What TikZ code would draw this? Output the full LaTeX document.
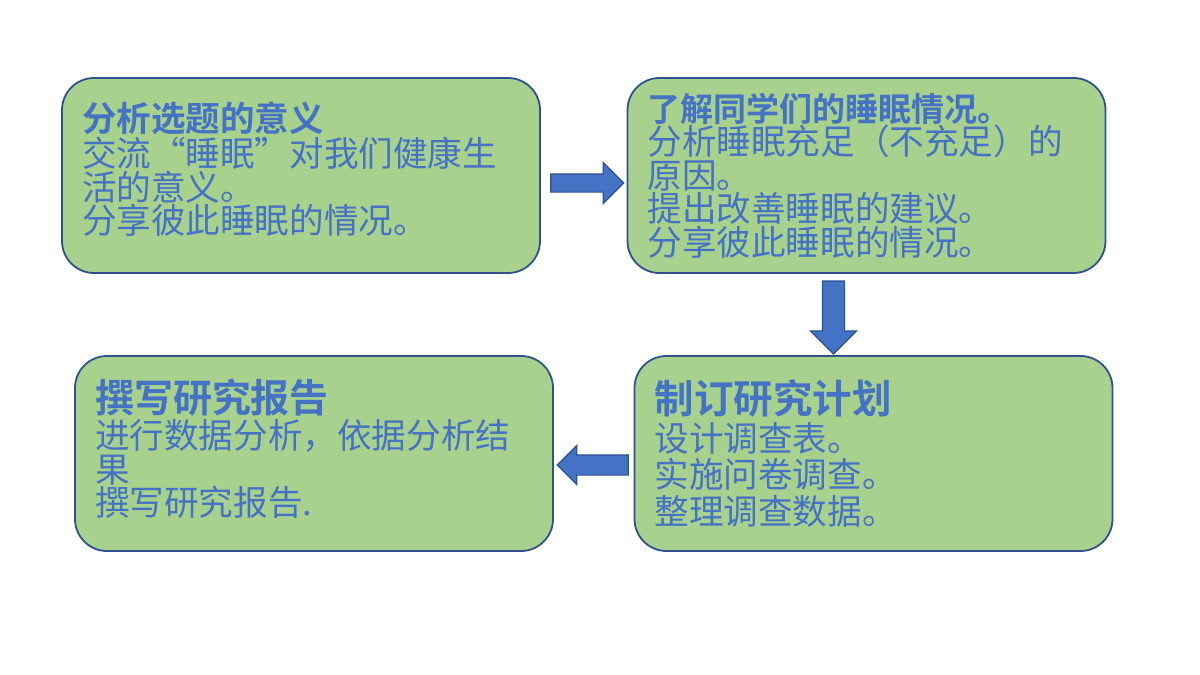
\documentclass[tikz,border=0pt]{standalone}
\usepackage{fontspec}
\newfontfamily\cjk[BoldFont={Noto Sans CJK SC Bold}]{Noto Sans CJK SC}
\usetikzlibrary{shapes.arrows,calc}
\definecolor{boxgreen}{HTML}{A9D18E}
\definecolor{boxline}{HTML}{2F528F}
\definecolor{txtblue}{HTML}{4472C4}
\newcommand{\hd}[2]{{\bfseries\fontsize{#1}{#1}\selectfont #2}}

\begin{document}
\begin{tikzpicture}[x=0.5pt,y=-0.5pt,
  stage/.style={rectangle,rounded corners=16pt,draw=boxline,line width=0.9pt,
    fill=boxgreen,text=txtblue,minimum width=239pt,minimum height=97.5pt,
    inner xsep=10pt,text width=219pt,align=left,
    font=\cjk\fontsize{17.3}{16.8}\selectfont},
  flow/.style={single arrow,draw=boxline,line width=0.6pt,fill=txtblue}]
  \fill[white] (0,0) rectangle (1200,675);
  \useasboundingbox (0,0) rectangle (1200,675);
  % the four steps
  \node[stage] (meaning) at (301,175.5) {\hd{17.25}{分析选题的意义}\\[1pt]
    交流“睡眠”对我们健康生\\活的意义。\\分享彼此睡眠的情况。\\[-9pt]\mbox{}};
  \node[stage] (survey) at (866.5,175.5) {\hd{16.5}{了解同学们的睡眠情况。}\\
    分析睡眠充足（不充足）的\\原因。\\提出改善睡眠的建议。\\分享彼此睡眠的情况。};
  \node[stage] (plan) at (873.5,453.5) {\hd{19.75}{制订研究计划}\\[2pt]
    设计调查表。\\[1.5pt]实施问卷调查。\\[1.5pt]整理调查数据。};
  \node[stage] (report) at (314,453.5) {\hd{19.5}{撰写研究报告}\\[1pt]
    进行数据分析，依据分析结\\果\\撰写研究报告.\\[-10.8pt]\mbox{}};
  % block arrows between the steps
  \node[flow,inner xsep=0pt,inner ysep=4.25pt,single arrow head extend=5.75pt,
    minimum height=36.5pt] (a1)
    at ($(meaning.east)!0.5!(survey.west)+(-1,7.5)$) {};
  \node[flow,inner sep=5.25pt,single arrow head extend=6pt,
    minimum height=36.5pt,shape border rotate=270] (a2) at (833.5,312) {};
  \node[flow,inner xsep=0pt,inner ysep=4.75pt,single arrow head extend=4.75pt,
    minimum height=35.5pt,shape border rotate=180] (a3)
    at ($(plan.west)!0.5!(report.east)+(4,11.5)$) {};
\end{tikzpicture}
\end{document}
